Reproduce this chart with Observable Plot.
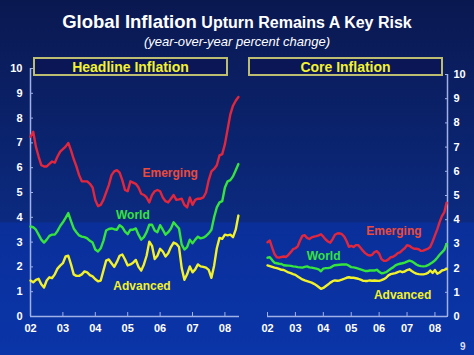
<!DOCTYPE html>
<html>
<head>
<meta charset="utf-8">
<script src="https://cdn.jsdelivr.net/npm/d3@7"></script>
<script src="https://cdn.jsdelivr.net/npm/@observablehq/plot@0.6"></script>
<style>
  html, body { margin: 0; padding: 0; }
  body {
    width: 474px; height: 355px; overflow: hidden; position: relative;
    background: linear-gradient(to bottom, #0a1850 0px, #0b2a80 222px, #0a2f9a 223px, #0a35a8 355px);
    font-family: "Liberation Sans", Arial, sans-serif;
  }
  .abs { position: absolute; }
  #title { left: 0; width: 474px; top: 11px; text-align: center; color: #fff; font-weight: bold; white-space: nowrap; }
  #title .big { font-size: 18.5px; }
  #title .small { font-size: 16px; }
  #subtitle { left: 0; width: 474px; top: 34px; text-align: center; color: #fff; font-style: italic; font-size: 13px; }
  .box { top: 57px; height: 15px; border: 2px solid #bdbd72; background: #0b1656; color: #f2f230;
         font-weight: bold; font-size: 14px; text-align: center; line-height: 16px; }
  #page { left: 460px; top: 341px; color: #dde; font-size: 10px; font-weight: bold; }
</style>
</head>
<body>
<div id="title" class="abs"><span class="big">Global Inflation</span> <span class="small">Upturn Remains A Key Risk</span></div>
<div id="subtitle" class="abs">(year-over-year percent change)</div>
<div id="left" class="abs" style="left:0;top:0"></div>
<div id="right" class="abs" style="left:250px;top:0"></div>
<div class="abs box" style="left:33px;width:191px">Headline Inflation</div>
<div class="abs box" style="left:248px;width:191px">Core Inflation</div>
<div id="page" class="abs">9</div>
<script>
// ---- Data (monthly, Jan 2002 – Jun 2008) ----
const startYear = 2002;
const yearTicks = [2002, 2003, 2004, 2005, 2006, 2007, 2008];
const yearLabels = ["02", "03", "04", "05", "06", "07", "08"];
const yTicks = [0, 1, 2, 3, 4, 5, 6, 7, 8, 9, 10];

const headlineEmerging = [7.25,7.45,6.85,6.45,6.1,6.05,6.05,6.15,6.25,6.2,6.45,6.65,
  6.75,6.85,7.0,6.7,6.35,6.05,5.7,5.45,5.45,5.45,5.35,5.2,
  4.7,4.45,4.5,4.7,5.0,5.3,5.7,5.85,5.9,5.8,5.5,5.1,
  5.05,5.45,5.4,5.35,5.2,4.95,4.9,4.8,4.6,4.9,5.05,5.1,
  5.05,4.8,4.65,4.6,4.75,4.9,4.7,4.72,4.75,4.5,4.4,4.8,
  4.5,4.7,4.75,4.75,4.8,5.0,5.5,5.85,5.95,6.1,6.5,6.55,
  6.95,7.55,8.15,8.5,8.7,8.85];
const headlineWorld = [3.63,3.6,3.5,3.3,3.1,2.98,3.1,3.25,3.3,3.3,3.45,3.65,
  3.8,3.98,4.17,3.85,3.55,3.4,3.27,3.22,3.2,3.15,3.05,2.98,
  2.7,2.62,2.75,3.05,3.47,3.53,3.55,3.52,3.5,3.68,3.6,3.42,
  3.32,3.5,3.5,3.55,3.3,3.1,3.2,3.4,3.7,3.7,3.47,3.4,
  3.68,3.5,3.3,3.4,3.55,3.8,3.67,3.55,2.9,2.7,2.8,3.1,
  2.95,3.1,3.22,3.15,3.18,3.25,3.35,3.5,4.0,4.4,4.6,4.65,
  5.2,5.45,5.5,5.65,5.9,6.15];
const headlineAdvanced = [1.45,1.38,1.48,1.52,1.3,1.17,1.45,1.58,1.55,1.7,1.93,2.05,
  2.15,2.42,2.45,2.1,1.7,1.64,1.64,1.7,1.82,1.78,1.67,1.62,
  1.5,1.42,1.45,1.85,2.25,2.3,2.15,2.0,2.2,2.45,2.5,2.3,
  2.06,2.1,2.17,2.28,2.0,1.85,2.1,2.45,3.02,2.85,2.32,2.45,
  2.73,2.62,2.42,2.55,2.8,2.98,2.93,2.8,1.95,1.48,1.7,2.02,
  1.78,1.9,2.1,2.02,2.0,1.97,1.88,1.56,2.05,2.75,3.17,3.13,
  3.3,3.27,3.3,3.2,3.5,4.07];

const coreEmerging = [3.07,3.14,2.85,2.58,2.45,2.43,2.46,2.48,2.46,2.55,2.66,2.78,
  2.82,2.9,3.14,3.33,3.36,3.25,3.2,3.27,3.3,3.32,3.35,3.4,
  3.3,3.18,3.1,3.05,3.2,3.38,3.43,3.44,3.4,3.3,3.12,2.88,
  2.92,2.87,2.95,2.95,2.84,2.72,2.62,2.55,2.52,2.55,2.66,2.7,
  2.6,2.37,2.3,2.3,2.36,2.45,2.47,2.53,2.62,2.65,2.74,2.82,
  2.95,2.92,2.85,2.8,2.8,2.78,2.71,2.72,2.76,2.8,2.88,3.1,
  3.35,3.6,3.9,4.15,4.3,4.7];
const coreWorld = [2.43,2.45,2.33,2.22,2.2,2.18,2.17,2.12,2.11,2.1,2.09,2.07,
  2.06,2.04,2.03,2.02,2.05,2.07,2.03,2.02,2.0,1.98,1.95,1.87,
  1.98,2.0,2.0,2.02,2.08,2.12,2.13,2.14,2.15,2.15,2.15,2.1,
  2.04,2.03,2.01,1.98,1.95,1.92,1.88,1.88,1.9,1.9,1.9,1.93,
  1.85,1.79,1.8,1.83,1.9,1.97,2.03,2.11,2.15,2.18,2.2,2.23,
  2.27,2.31,2.28,2.22,2.15,2.1,2.08,2.07,2.08,2.12,2.18,2.24,
  2.32,2.43,2.55,2.65,2.75,3.0];
const coreAdvanced = [2.11,2.08,2.05,2.02,2.0,1.97,1.93,1.92,1.87,1.82,1.79,1.75,
  1.72,1.65,1.59,1.53,1.49,1.46,1.43,1.4,1.35,1.29,1.22,1.14,
  1.18,1.25,1.32,1.4,1.46,1.49,1.48,1.49,1.52,1.56,1.6,1.62,
  1.6,1.6,1.58,1.56,1.52,1.48,1.47,1.47,1.49,1.48,1.49,1.48,
  1.47,1.5,1.54,1.6,1.7,1.75,1.77,1.79,1.83,1.87,1.83,1.86,
  1.92,1.95,1.88,1.82,1.77,1.75,1.74,1.74,1.76,1.8,1.9,1.8,
  1.92,1.77,1.82,1.9,1.93,1.97];

const seriesNames = ["Emerging", "World", "Advanced"];
const seriesColors = ["#e3263c", "#35e43c", "#f2f22a"];
const labelColors = ["#ec4a3c", "#35e43c", "#f2f22a"];

// ---- Build tidy rows ----
function rows(arrays) {
  const out = [];
  arrays.forEach((arr, s) => arr.forEach((v, i) => out.push({t: startYear + i / 12, v, s: seriesNames[s]})));
  return out;
}

const axisColor = "#9fb1e6";
const font = "'Liberation Sans', Arial, sans-serif";

function panel({data, labels, width, marginLeft, marginRight, marginTop, side}) {
  const end = startYear + 6.45;
  return Plot.plot({
    width, height: 340, marginTop, marginBottom: 24, marginLeft, marginRight,
    style: {background: "transparent", color: "#ffffff", fontFamily: font, fontSize: "11px", fontWeight: "bold", overflow: "visible"},
    x: {domain: [startYear, end]},
    y: {domain: [0, 10]},
    color: {domain: seriesNames, range: seriesColors},
    marks: [
      Plot.ruleY([0], {stroke: axisColor, strokeWidth: 1.5}),
      Plot.ruleX([side === "left" ? startYear : end], {stroke: axisColor, strokeWidth: 1.5}),
      Plot.axisY({anchor: side, ticks: yTicks, tickSize: -3, tickPadding: side === "left" ? 11 : 9,
        stroke: axisColor, fill: "#ffffff", label: null, tickFormat: d => String(d)}),
      Plot.axisX({anchor: "bottom", ticks: yearTicks, tickSize: -4, tickPadding: 12,
        stroke: axisColor, fill: "#ffffff", label: null, tickFormat: (d) => yearLabels[yearTicks.indexOf(d)]}),
      Plot.lineY(data, {x: "t", y: "v", z: "s", stroke: "s", strokeWidth: 2.4, curve: "linear"}),
      Plot.text(labels, {x: "x", y: "y", text: "name", fill: "color", fontSize: 12, fontWeight: "bold"})
    ]
  });
}

const leftLabels = [
  {name: "Emerging", x: 2006.31, y: 5.77, color: labelColors[0]},
  {name: "World", x: 2005.16, y: 4.07, color: labelColors[1]},
  {name: "Advanced", x: 2005.44, y: 1.22, color: labelColors[2]}
];
const rightLabels = [
  {name: "Emerging", x: 2006.53, y: 3.51, color: labelColors[0]},
  {name: "World", x: 2004.01, y: 2.48, color: labelColors[1]},
  {name: "Advanced", x: 2006.84, y: 0.87, color: labelColors[2]}
];

document.getElementById("left").append(panel({
  data: rows([headlineEmerging, headlineWorld, headlineAdvanced]), labels: leftLabels,
  width: 250, marginLeft: 30, marginRight: 11, marginTop: 68, side: "left"
}));
document.getElementById("right").append(panel({
  data: rows([coreEmerging, coreWorld, coreAdvanced]), labels: rightLabels,
  width: 224, marginLeft: 17, marginRight: 27, marginTop: 74, side: "right"
}));
</script>
</body>
</html>
